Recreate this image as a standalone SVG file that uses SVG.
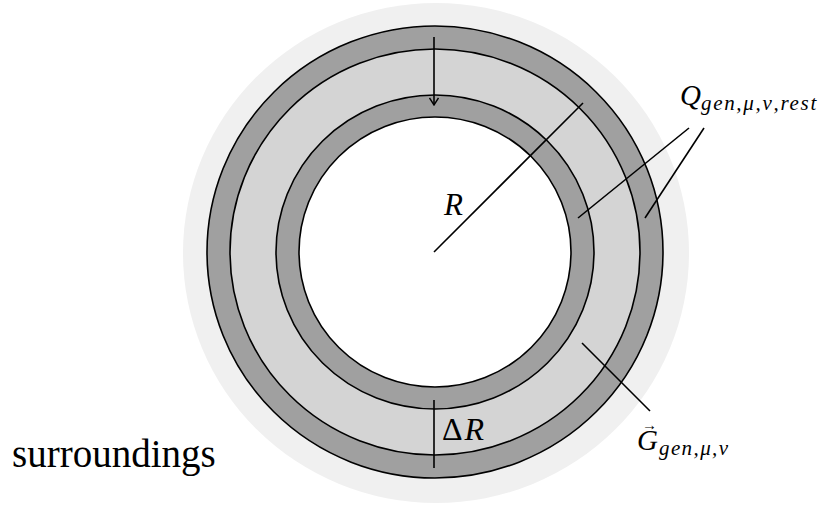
<svg xmlns="http://www.w3.org/2000/svg" width="824" height="507" viewBox="0 0 824 507">
<style>
.ring{stroke:#000;stroke-width:1.6}
.ln{stroke:#000;stroke-width:1.6;fill:none}
.t{font-family:"Liberation Serif","DejaVu Serif",serif;fill:#000}
.it{font-style:italic}
</style>
<defs>
<marker id="chev" viewBox="0 0 10 10" refX="9" refY="5" markerWidth="10" markerHeight="10" markerUnits="userSpaceOnUse" orient="auto">
<path d="M2,0.5 L9,5 L2,9.5" fill="none" stroke="#000" stroke-width="1.4"/>
</marker>
</defs>
<rect width="824" height="507" fill="#fff"/>
<g id="surroundings">
<ellipse cx="436" cy="253" rx="253" ry="250" fill="#f0f0f0"/>
<text class="t" x="12" y="467" font-size="39">surroundings</text>
</g>
<g id="outer-ring">
<ellipse class="ring" cx="435" cy="252" rx="228" ry="226" fill="#a0a0a0"/>
</g>
<g id="gap-layer">
<ellipse class="ring" cx="435" cy="252" rx="205" ry="203" fill="#d4d4d4"/>
</g>
<g id="inner-ring">
<ellipse class="ring" cx="435" cy="252" rx="159" ry="157" fill="#a0a0a0"/>
</g>
<g id="core">
<ellipse class="ring" cx="435" cy="252" rx="136" ry="135" fill="#fff"/>
</g>
<g id="connectors">
<line class="ln" x1="434" y1="37" x2="434" y2="105" marker-end="url(#chev)"/>
<line class="ln" x1="434" y1="400" x2="434" y2="468"/>
<line class="ln" x1="434" y1="252" x2="583" y2="103"/>
<line class="ln" x1="689" y1="128" x2="578" y2="218"/>
<line class="ln" x1="704" y1="128" x2="645" y2="218"/>
<line class="ln" x1="582" y1="343" x2="650" y2="411"/>
</g>
<g id="labels">
<text class="t it" x="444" y="215" font-size="31">R</text>
<text class="t" x="442" y="440" font-size="32" letter-spacing="2">Δ<tspan class="it">R</tspan></text>
<text class="t it" x="680" y="105" font-size="29">Q<tspan font-size="21" dy="5" letter-spacing="1.7">gen,μ,ν,rest</tspan></text>
<text class="t it" x="637" y="450" font-size="29">G<tspan x="642" y="430" font-size="15" font-style="normal">→</tspan><tspan x="659" y="455" font-size="21" letter-spacing="1.4">gen,μ,ν</tspan></text>
</g>
</svg>
